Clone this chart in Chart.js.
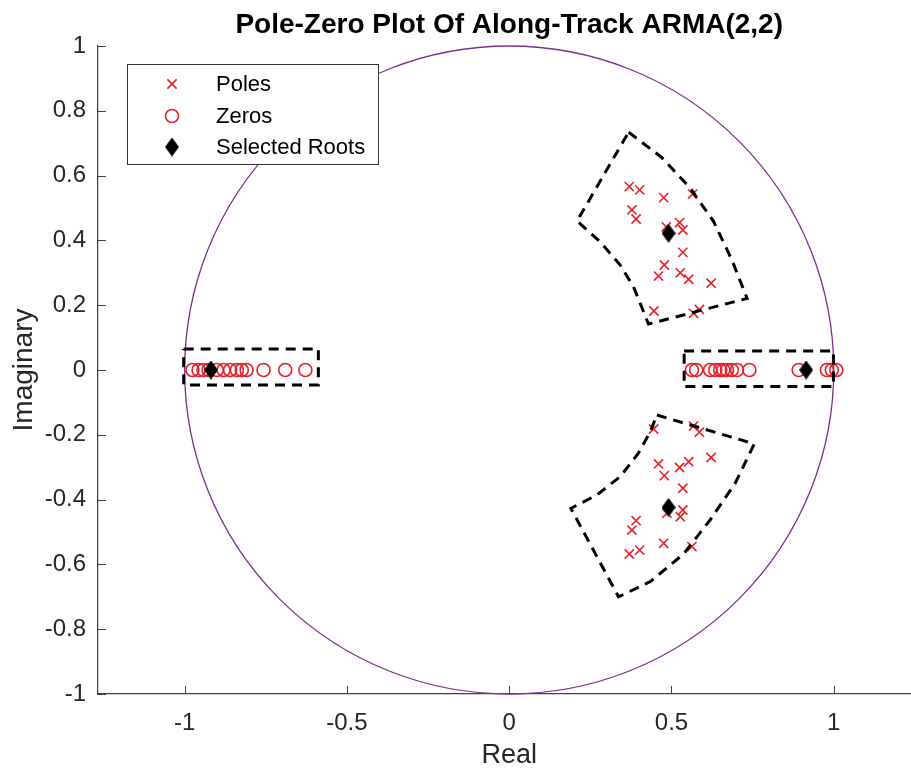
<!DOCTYPE html>
<html>
<head>
<meta charset="utf-8">
<title>Pole-Zero Plot</title>
<script src="https://cdn.jsdelivr.net/npm/chart.js@4.4.0/dist/chart.umd.min.js"></script>
<style>
  html, body { margin: 0; padding: 0; background: #fff; overflow: hidden; }
  #pz { display: block; }
</style>
</head>
<body>
<canvas id="pz" width="911" height="772"></canvas>
<script>
// poles (upper half and lower half)
const polesRe = [0.370, 0.402, 0.476, 0.565, 0.378, 0.391, 0.525, 0.535, 0.484, 0.535, 0.478, 0.460, 0.527, 0.553, 0.622, 0.446, 0.568, 0.586,
                 0.370, 0.402, 0.476, 0.563, 0.378, 0.391, 0.527, 0.535, 0.486, 0.535, 0.478, 0.460, 0.525, 0.553, 0.622, 0.445, 0.568, 0.586];
const polesIm = [0.566, 0.556, 0.532, 0.543, 0.494, 0.466, 0.455, 0.432, 0.442, 0.363, 0.324, 0.290, 0.300, 0.280, 0.268, 0.182, 0.175, 0.187,
                 -0.568, -0.556, -0.535, -0.545, -0.494, -0.465, -0.453, -0.432, -0.442, -0.365, -0.326, -0.290, -0.301, -0.283, -0.270, -0.182, -0.173, -0.192];

// zeros (all real)
const zerosRe = [-0.976, -0.957, -0.942, -0.926, -0.901, -0.880, -0.860, -0.839, -0.824, -0.809, -0.757, -0.690, -0.628,
                 0.563, 0.576, 0.619, 0.635, 0.650, 0.660, 0.671, 0.686, 0.702, 0.740, 0.892, 0.979, 0.994, 1.008];
const zerosIm = [0, 0, 0, 0, 0, 0, 0, 0, 0, 0, 0, 0, 0,
                 0, 0, 0, 0, 0, 0, 0, 0, 0, 0, 0, 0, 0, 0];

// selected roots
const selRe = [0.491, 0.491, -0.919, 0.915];
const selIm = [0.422, -0.424, 0, 0];

// dashed selection regions
const leftBoxRe  = [-1.003, -0.588, -0.588, -1.003, -1.003];
const leftBoxIm  = [0.065, 0.065, -0.046, -0.046, 0.065];
const rightBoxRe = [0.539, 0.999, 0.999, 0.539, 0.539];
const rightBoxIm = [0.059, 0.059, -0.051, -0.051, 0.059];
const upperSecRe = [0.368, 0.470, 0.558, 0.630, 0.686, 0.733, 0.429, 0.383, 0.342, 0.280, 0.209, 0.368];
const upperSecIm = [0.734, 0.656, 0.561, 0.458, 0.340, 0.221, 0.142, 0.257, 0.324, 0.396, 0.460, 0.734];
const lowerSecRe = [0.455, 0.755, 0.696, 0.619, 0.537, 0.435, 0.337, 0.190, 0.270, 0.342, 0.398, 0.435, 0.455];
const lowerSecIm = [-0.139, -0.228, -0.350, -0.463, -0.568, -0.653, -0.700, -0.427, -0.386, -0.329, -0.257, -0.190, -0.139];

const xTickValues = [-1, -0.5, 0, 0.5, 1];
const xTickLabels = ['-1', '-0.5', '0', '0.5', '1'];
const yTickValues = [-1, -0.8, -0.6, -0.4, -0.2, 0, 0.2, 0.4, 0.6, 0.8, 1];
const yTickLabels = ['-1', '-0.8', '-0.6', '-0.4', '-0.2', '0', '0.2', '0.4', '0.6', '0.8', '1'];

const titleText = 'Pole-Zero Plot Of Along-Track ARMA(2,2)';
const xLabel = 'Real';
const yLabel = 'Imaginary';

const FONT = "'Liberation Sans', Arial, Helvetica, sans-serif";
const RED = '#e8202a';
const AXIS = '#404040';

function pts(xs, ys) {
  return xs.map((x, i) => ({ x: x, y: ys[i] }));
}

// tall MATLAB-like diamond marker
const diamond = document.createElement('canvas');
diamond.width = 14; diamond.height = 19;
(function () {
  const c = diamond.getContext('2d');
  c.fillStyle = '#000';
  c.beginPath();
  c.moveTo(7, 0); c.lineTo(14, 9.5); c.lineTo(7, 19); c.lineTo(0, 9.5);
  c.closePath();
  c.fill();
})();

function boundary(xs, ys) {
  return {
    label: '_region',
    data: pts(xs, ys),
    showLine: true,
    borderColor: '#000',
    borderWidth: 3,
    borderDash: [10, 7],
    pointRadius: 0,
    pointHoverRadius: 0,
    tension: 0,
    fill: false,
    order: 1
  };
}

// unit circle drawn through the scales
const unitCircle = {
  id: 'unitCircle',
  beforeDatasetsDraw(chart) {
    const { ctx, scales: { x, y } } = chart;
    const cx = x.getPixelForValue(0), cy = y.getPixelForValue(0);
    const rx = x.getPixelForValue(1) - cx, ry = cy - y.getPixelForValue(1);
    ctx.save();
    ctx.strokeStyle = '#7e2f8e';
    ctx.lineWidth = 1.3;
    ctx.beginPath();
    ctx.ellipse(cx, cy, rx, ry, 0, 0, Math.PI * 2);
    ctx.stroke();
    ctx.restore();
  }
};

// inward tick marks, MATLAB style, plus titles centred on the full (symmetric) axes
const axesDecor = {
  id: 'axesDecor',
  afterDraw(chart) {
    const { ctx, chartArea, scales: { x, y } } = chart;
    ctx.save();
    ctx.strokeStyle = AXIS;
    ctx.lineWidth = 1;
    ctx.beginPath();
    x.ticks.forEach(t => {
      const px = Math.round(x.getPixelForValue(t.value)) + 0.5;
      ctx.moveTo(px, chartArea.bottom);
      ctx.lineTo(px, chartArea.bottom - 8);
    });
    y.ticks.forEach(t => {
      const py = Math.round(y.getPixelForValue(t.value)) + 0.5;
      ctx.moveTo(chartArea.left, py);
      ctx.lineTo(chartArea.left + 8, py);
    });
    ctx.stroke();

    const cx = x.getPixelForValue(0);
    ctx.textAlign = 'center';
    ctx.textBaseline = 'middle';
    ctx.fillStyle = '#000';
    ctx.font = 'bold 28px ' + FONT;
    ctx.fillText(titleText, cx, 25);

    ctx.fillStyle = '#262626';
    ctx.font = '27px ' + FONT;
    ctx.fillText(xLabel, cx, 756);

    ctx.save();
    ctx.translate(24, y.getPixelForValue(0));
    ctx.rotate(-Math.PI / 2);
    ctx.font = '28px ' + FONT;
    ctx.fillText(yLabel, 0, 0);
    ctx.restore();
    ctx.restore();
  }
};

// legend box inside the axes
const boxLegend = {
  id: 'boxLegend',
  afterDraw(chart) {
    const ctx = chart.ctx;
    const left = 127, top = 64, w = 251, h = 100;
    const mx = 172, tx = 216;
    const rows = [84, 116, 147];
    ctx.save();
    ctx.fillStyle = '#fff';
    ctx.fillRect(left, top, w, h);
    ctx.strokeStyle = '#333';
    ctx.lineWidth = 1;
    ctx.strokeRect(left + 0.5, top + 0.5, w, h);

    const items = chart.data.datasets.filter(d => d.label[0] !== '_');
    items.forEach((d, i) => {
      const yy = rows[i];
      ctx.strokeStyle = d.borderColor;
      ctx.lineWidth = d.borderWidth;
      if (d.pointStyle === 'crossRot') {
        const r = d.pointRadius * Math.SQRT1_2;
        ctx.beginPath();
        ctx.moveTo(mx - r, yy - r); ctx.lineTo(mx + r, yy + r);
        ctx.moveTo(mx - r, yy + r); ctx.lineTo(mx + r, yy - r);
        ctx.stroke();
      } else if (d.pointStyle === 'circle') {
        ctx.beginPath();
        ctx.arc(mx, yy, d.pointRadius, 0, Math.PI * 2);
        ctx.stroke();
      } else {
        ctx.drawImage(diamond, mx - 7, yy - 9.5);
      }
      ctx.fillStyle = '#000';
      ctx.font = '22px ' + FONT;
      ctx.textBaseline = 'middle';
      ctx.textAlign = 'left';
      ctx.fillText(d.label, tx, yy + 1);
    });
    ctx.restore();
  }
};

const data = {
  datasets: [
    {
      label: 'Poles',
      data: pts(polesRe, polesIm),
      pointStyle: 'crossRot',
      pointRadius: 6.5,
      borderColor: RED,
      backgroundColor: RED,
      borderWidth: 1.6,
      showLine: false,
      order: 2
    },
    {
      label: 'Zeros',
      data: pts(zerosRe, zerosIm),
      pointStyle: 'circle',
      pointRadius: 6.5,
      borderColor: RED,
      backgroundColor: 'rgba(0,0,0,0)',
      borderWidth: 1.6,
      showLine: false,
      order: 3
    },
    {
      label: 'Selected Roots',
      data: pts(selRe, selIm),
      pointStyle: diamond,
      pointRadius: 8,
      borderColor: '#000',
      backgroundColor: '#000',
      borderWidth: 1,
      showLine: false,
      order: 0
    },
    boundary(leftBoxRe, leftBoxIm),
    boundary(rightBoxRe, rightBoxIm),
    boundary(upperSecRe, upperSecIm),
    boundary(lowerSecRe, lowerSecIm)
  ]
};

const config = {
  type: 'scatter',
  data: data,
  options: {
    responsive: false,
    animation: false,
    layout: { autoPadding: false, padding: { top: 46, left: 0, right: 0, bottom: 0 } },
    plugins: {
      legend: { display: false },
      tooltip: { enabled: false },
      title: { display: false }
    },
    scales: {
      x: {
        type: 'linear',
        min: -1.267,
        max: 1.238,
        afterBuildTicks: s => { s.ticks = xTickValues.map(v => ({ value: v })); },
        afterFit: s => { s.height = 78; s.paddingLeft = 0; s.paddingRight = 0; },
        grid: { display: false },
        border: { display: true, color: AXIS, width: 1.2 },
        ticks: {
          color: '#262626',
          font: { family: FONT, size: 24 },
          padding: 7,
          maxRotation: 0,
          callback: (v, i) => xTickLabels[i]
        }
      },
      y: {
        type: 'linear',
        min: -1,
        max: 1,
        afterBuildTicks: s => { s.ticks = yTickValues.map(v => ({ value: v })); },
        afterFit: s => { s.width = 98; },
        grid: { display: false },
        border: { display: true, color: AXIS, width: 1.2 },
        ticks: {
          color: '#262626',
          font: { family: FONT, size: 24 },
          padding: 4,
          callback: (v, i) => yTickLabels[i]
        }
      }
    }
  },
  plugins: [unitCircle, axesDecor, boxLegend]
};

new Chart(document.getElementById('pz'), config);
</script>
</body>
</html>
